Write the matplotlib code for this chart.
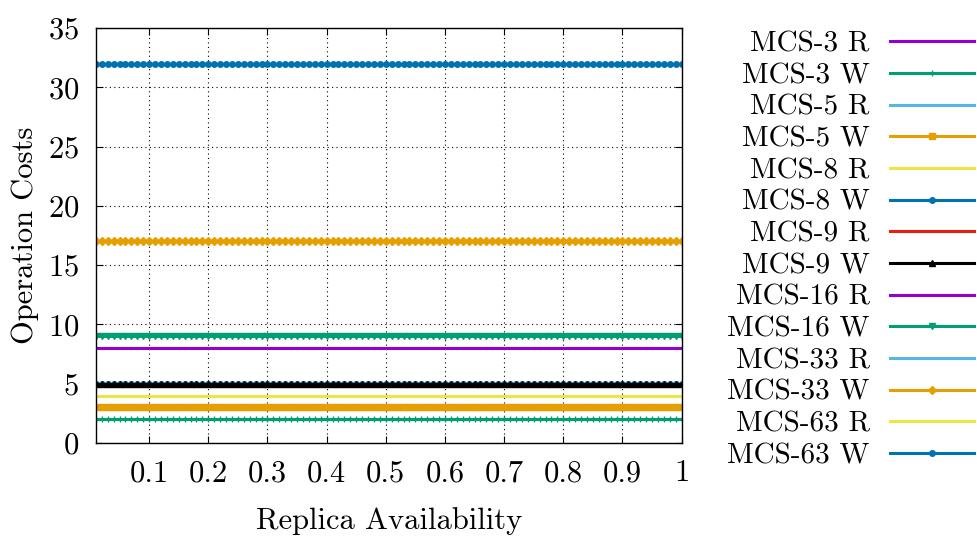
import numpy as np
import matplotlib
matplotlib.use("Agg")
import matplotlib.pyplot as plt

plt.rcParams["font.family"] = ["cmr10", "DejaVu Serif"]
plt.rcParams["mathtext.fontset"] = "cm"
plt.rcParams["axes.formatter.use_mathtext"] = True

# replica availability samples
x = np.linspace(0.01, 1.0, 100)

labels = ["MCS-3 R", "MCS-3 W", "MCS-5 R", "MCS-5 W", "MCS-8 R", "MCS-8 W",
          "MCS-9 R", "MCS-9 W", "MCS-16 R", "MCS-16 W", "MCS-33 R", "MCS-33 W",
          "MCS-63 R", "MCS-63 W"]
costs = [2, 2, 3, 3, 4, 5, 5, 5, 8, 9, 17, 17, 32, 32]
colors = ["#9400d3", "#009e73", "#56b4e9", "#e69f00", "#f0e442", "#0072b2", "#e51e10",
          "#000000", "#9400d3", "#009e73", "#56b4e9", "#e69f00", "#f0e442", "#0072b2"]
markers = [".", "+", ".", "s", ".", "o", ".", "^", ".", "v", ".", "D", ".", "o"]
msizes = [2, 4, 2, 5, 2, 4, 2, 5, 2, 5, 2, 4, 2, 4]

fig = plt.figure(figsize=(9.78, 5.39), dpi=100)
ax = fig.add_axes([0.098, 0.178, 0.599, 0.770])

for lab, c, col, m, ms in zip(labels, costs, colors, markers, msizes):
    ax.plot(x, np.full_like(x, c), color=col, lw=2.2, marker=m, ms=ms,
            mew=1.0, label=lab)

ax.set_xlim(0.01, 1)
ax.set_ylim(0, 35)
ax.set_xticks(np.arange(0.1, 1.01, 0.1))
ax.set_xticklabels(["0.1", "0.2", "0.3", "0.4", "0.5", "0.6", "0.7", "0.8", "0.9", "1"])
ax.set_yticks(range(0, 36, 5))
ax.tick_params(direction="in", top=True, right=True, labelsize=22, length=5, pad=12)
ax.grid(True, color="black", linestyle=(0, (1, 3)), linewidth=0.8)
for s in ax.spines.values():
    s.set_linewidth(1.0)

ax.set_xlabel("Replica Availability", fontsize=22, labelpad=14)
ax.set_ylabel("Operation Costs", fontsize=22, labelpad=6)

ax.legend(loc="upper right", bbox_to_anchor=(1.008, 0.964), bbox_transform=fig.transFigure,
          markerfirst=False, frameon=False, fontsize=21, handlelength=2.9,
          handletextpad=0.68, labelspacing=0.18, borderaxespad=0, numpoints=1)

fig.savefig("out.png", dpi=100)
